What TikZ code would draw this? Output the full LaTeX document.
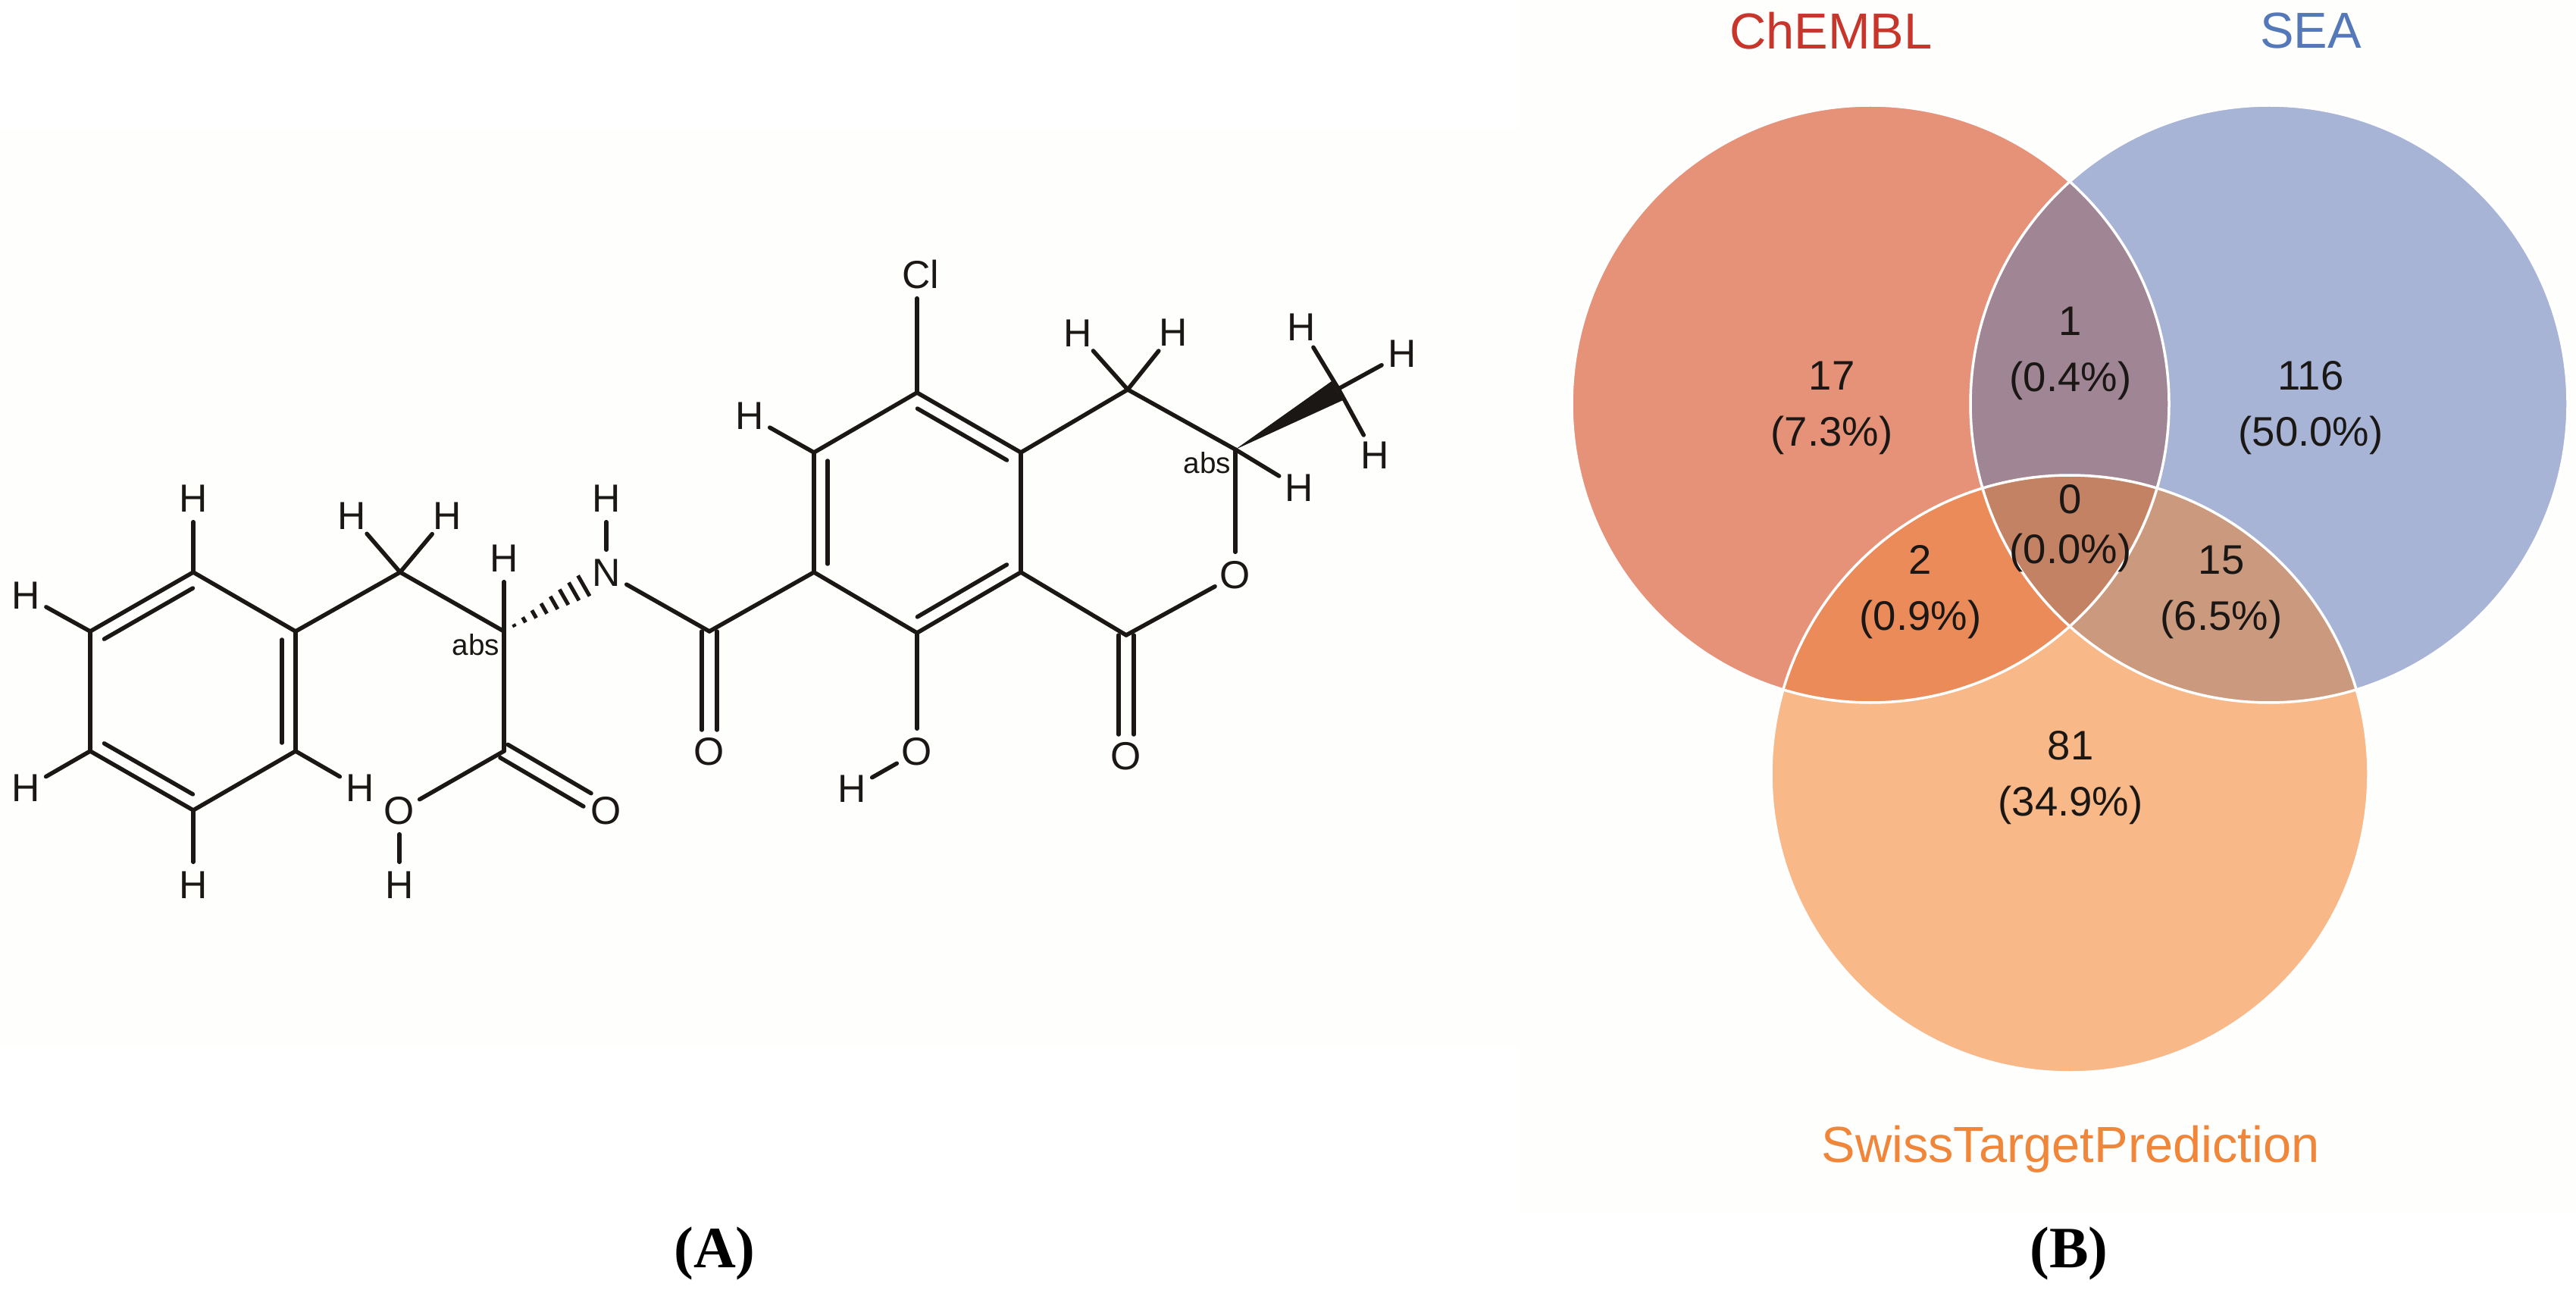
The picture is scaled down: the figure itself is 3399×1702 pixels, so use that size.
\documentclass[tikz,border=0pt]{standalone}
\usepackage{fontspec}
\setmainfont{Liberation Sans}
\newfontfamily\panelfont{Liberation Serif}
\usepackage{tikz}
\usetikzlibrary{calc}

\definecolor{paper}{HTML}{FEFEFC}
\definecolor{chemblfill}{HTML}{E59279}
\definecolor{seafill}{HTML}{A8B4D6}
\definecolor{swissfill}{HTML}{F9B888}
\definecolor{chemblsea}{HTML}{A08594}
\definecolor{chemblswiss}{HTML}{EB8B5A}
\definecolor{seaswiss}{HTML}{CB9A7E}
\definecolor{allthree}{HTML}{C48265}
\definecolor{chembltext}{HTML}{C8352B}
\definecolor{seatext}{HTML}{5578B8}
\definecolor{swisstext}{HTML}{F0863A}
\definecolor{inkblack}{HTML}{1A1715}

\begin{document}
\begin{tikzpicture}[x=0.1mm,y=-0.1mm]
    % Page size
    \useasboundingbox (0,0) rectangle (3399,1702);
    % Circle radius
    \newcommand{\vennr}{394}
    % Styles
    \tikzset{
      atom/.style={circle, inner sep=0, minimum size=6mm, text=inkblack,
        font=\fontsize{14.7}{17}\selectfont},
      bond/.style={draw=inkblack, line width=0.55mm, line cap=round},
      hash/.style={draw=inkblack, line width=0.5mm},
      stereo/.style={text=inkblack, inner sep=0, font=\fontsize{11}{12}\selectfont},
      setname/.style={inner sep=0, font=\fontsize{19}{22}\selectfont},
      count/.style={align=center, text=inkblack, inner sep=0,
        font=\fontsize{15.5}{21}\selectfont},
      panel/.style={text=black, inner sep=0, font=\panelfont\bfseries\fontsize{22}{26}\selectfont}
    }
    % Inner line of a ring double bond
    \newcommand{\innerbond}[2]{
      \draw[bond, shorten <=1.1mm, shorten >=1.1mm]
      ($(#1)!1.8mm!90:(#2)$) -- ($(#2)!1.8mm!-90:(#1)$);
    }
    % Carbonyl double bond
    \newcommand{\twinbond}[2]{
      \draw[bond, shorten >=2.9mm] ($(#1)!1mm!90:(#2)$) -- ($(#2)!1mm!-90:(#1)$);
      \draw[bond, shorten >=2.9mm] ($(#1)!1mm!-90:(#2)$) -- ($(#2)!1mm!90:(#1)$);
    }

    % Backgrounds
    \fill[paper] (0,170) rectangle (2005,1380);
    \fill[paper] (2005,0) rectangle (3399,1600);

    % Carbons
    \foreach \name/\x/\y in {Ph-1/255/755, Ph-2/119/833, Ph-3/119/991, Ph-4/255/1069,
      Ph-5/390/991, Ph-6/390/833, Chain-1/528/755, Chain-2/665/833, Acid/665/991,
      Amide/936/833, Ar-1/1210/518, Ar-2/1074/597, Ar-3/1074/755, Ar-4/1210/835,
      Ar-5/1347/755, Ar-6/1347/597, Pyran-1/1488/514, Pyran-2/1630/593,
      Lactone/1486/838, Methyl/1766/513}
      {
        \coordinate (\name) at (\x,\y);
      }

    % Hetero atoms
    \foreach \name/\x/\y/\txt in {N/800/756/N, Acid-O/800/1070/O, Acid-OH/527/1070/O,
      Amide-O/936/992/O, Cl/1215/362/Cl, Ring-O/1630/759/O, Lactone-O/1486/998/O,
      Ar-OH/1210/992/O}
      {
        \node[atom] (\name) at (\x,\y) {\txt};
      }

    % Hydrogens
    \foreach \name/\x/\y in {H-1/255/658, H-2/34/786, H-3/34/1040, H-4/255/1168,
      H-5/475/1040, H-6/464/681, H-7/590/681, H-8/665/737, H-9/800/658, H-10/527/1168,
      H-11/989/549, H-12/1124/1041, H-13/1422/440, H-14/1548/439, H-15/1714/644,
      H-16/1717/432, H-17/1850/467, H-18/1814/601}
      {
        \node[atom] (\name) at (\x,\y) {H};
      }

    % Single bonds
    \foreach \a/\b in {Ph-1/Ph-2, Ph-2/Ph-3, Ph-3/Ph-4, Ph-4/Ph-5, Ph-5/Ph-6, Ph-6/Ph-1,
      Ph-6/Chain-1, Chain-1/Chain-2, Chain-2/Acid, Acid/Acid-OH, Acid-OH/H-10,
      N/Amide, N/H-9, Amide/Ar-3, Ar-1/Ar-2, Ar-2/Ar-3, Ar-3/Ar-4, Ar-4/Ar-5, Ar-5/Ar-6,
      Ar-6/Ar-1, Ar-4/Ar-OH, Ar-OH/H-12, Ar-6/Pyran-1, Pyran-1/Pyran-2,
      Pyran-2/Ring-O, Ring-O/Lactone, Lactone/Ar-5, Ph-1/H-1, Ph-2/H-2, Ph-3/H-3,
      Ph-4/H-4, Ph-5/H-5, Chain-1/H-6, Chain-1/H-7, Chain-2/H-8, Ar-2/H-11,
      Pyran-1/H-13, Pyran-1/H-14, Pyran-2/H-15, Methyl/H-16, Methyl/H-17, Methyl/H-18}
      {
        \draw[bond] (\a) -- (\b);
      }
    % Chlorine bond stays vertical
    \draw[bond] (Ar-1) -- (Ar-1 |- Cl.south);

    % Double bonds
    \innerbond{Ph-1}{Ph-2}
    \innerbond{Ph-3}{Ph-4}
    \innerbond{Ph-5}{Ph-6}
    \innerbond{Ar-2}{Ar-3}
    \innerbond{Ar-4}{Ar-5}
    \innerbond{Ar-6}{Ar-1}
    \twinbond{Acid}{Acid-O}
    \twinbond{Amide}{Amide-O}
    \twinbond{Lactone}{Lactone-O}

    % Hashed bond
    \foreach \t in {0.10,0.197,0.294,0.391,0.489,0.586,0.683,0.78}
      {
        \pgfmathsetmacro{\halfbar}{2*\t}
        \draw[hash] ($(Chain-2)!\t!(N)!\halfbar mm!90:(N)$) -- ($(Chain-2)!\t!(N)!\halfbar mm!-90:(N)$);
      }
    % Solid wedge
    \fill[inkblack] (Pyran-2) -- (1757,503) -- (1772,528) -- cycle;

    % abs marks
    \node[stereo] (Abs-1) at (628,851) {abs};
    \node[stereo] (Abs-2) at (1593,611) {abs};

    % Venn centres
    \coordinate (Chembl) at (2468,533);
    \coordinate (Sea) at (2994,533);
    \coordinate (Swiss) at (2731,1021);
    % Venn regions
    \fill[chemblfill] (Chembl) circle (\vennr);
    \fill[seafill] (Sea) circle (\vennr);
    \fill[swissfill] (Swiss) circle (\vennr);
    \begin{scope}
      \clip (Sea) circle (\vennr);
      \fill[seaswiss] (Swiss) circle (\vennr);
    \end{scope}
    \begin{scope}
      \clip (Chembl) circle (\vennr);
      \fill[chemblsea] (Sea) circle (\vennr);
      \fill[chemblswiss] (Swiss) circle (\vennr);
      \clip (Sea) circle (\vennr);
      \fill[allthree] (Swiss) circle (\vennr);
    \end{scope}
    % Venn outlines
    \foreach \c in {Chembl,Sea,Swiss}
      {
        \draw[white, line width=0.35mm] (\c) circle (\vennr);
      }

    % Set names
    \node[setname, text=chembltext] (Name-1) at (2416,41) {ChEMBL};
    \node[setname, text=seatext] (Name-2) at (3049,41) {SEA};
    \node[setname, text=swisstext] (Name-3) at (2732,1516) {SwissTargetPrediction};

    % Counts
    \foreach \name/\x/\y/\n/\p in {Only-1/2417/538/17/7.3, Pair-1/2732/466/1/0.4,
      Only-2/3049/538/116/50.0, Pair-2/2534/781/2/0.9, Pair-3/2931/781/15/6.5,
      Only-3/2732/1026/81/34.9}
      {
        \node[count] (\name) at (\x,\y) {\n\\(\p\%)};
      }
    \node[count, font=\fontsize{15.5}{18.8}\selectfont] (Triple) at (2732,697) {0\\(0.0\%)};

    % Panel letters
    \node[panel] (Panel-A) at (943,1654) {(A)};
    \node[panel] (Panel-B) at (2730,1654) {(B)};
\end{tikzpicture}
\end{document}
